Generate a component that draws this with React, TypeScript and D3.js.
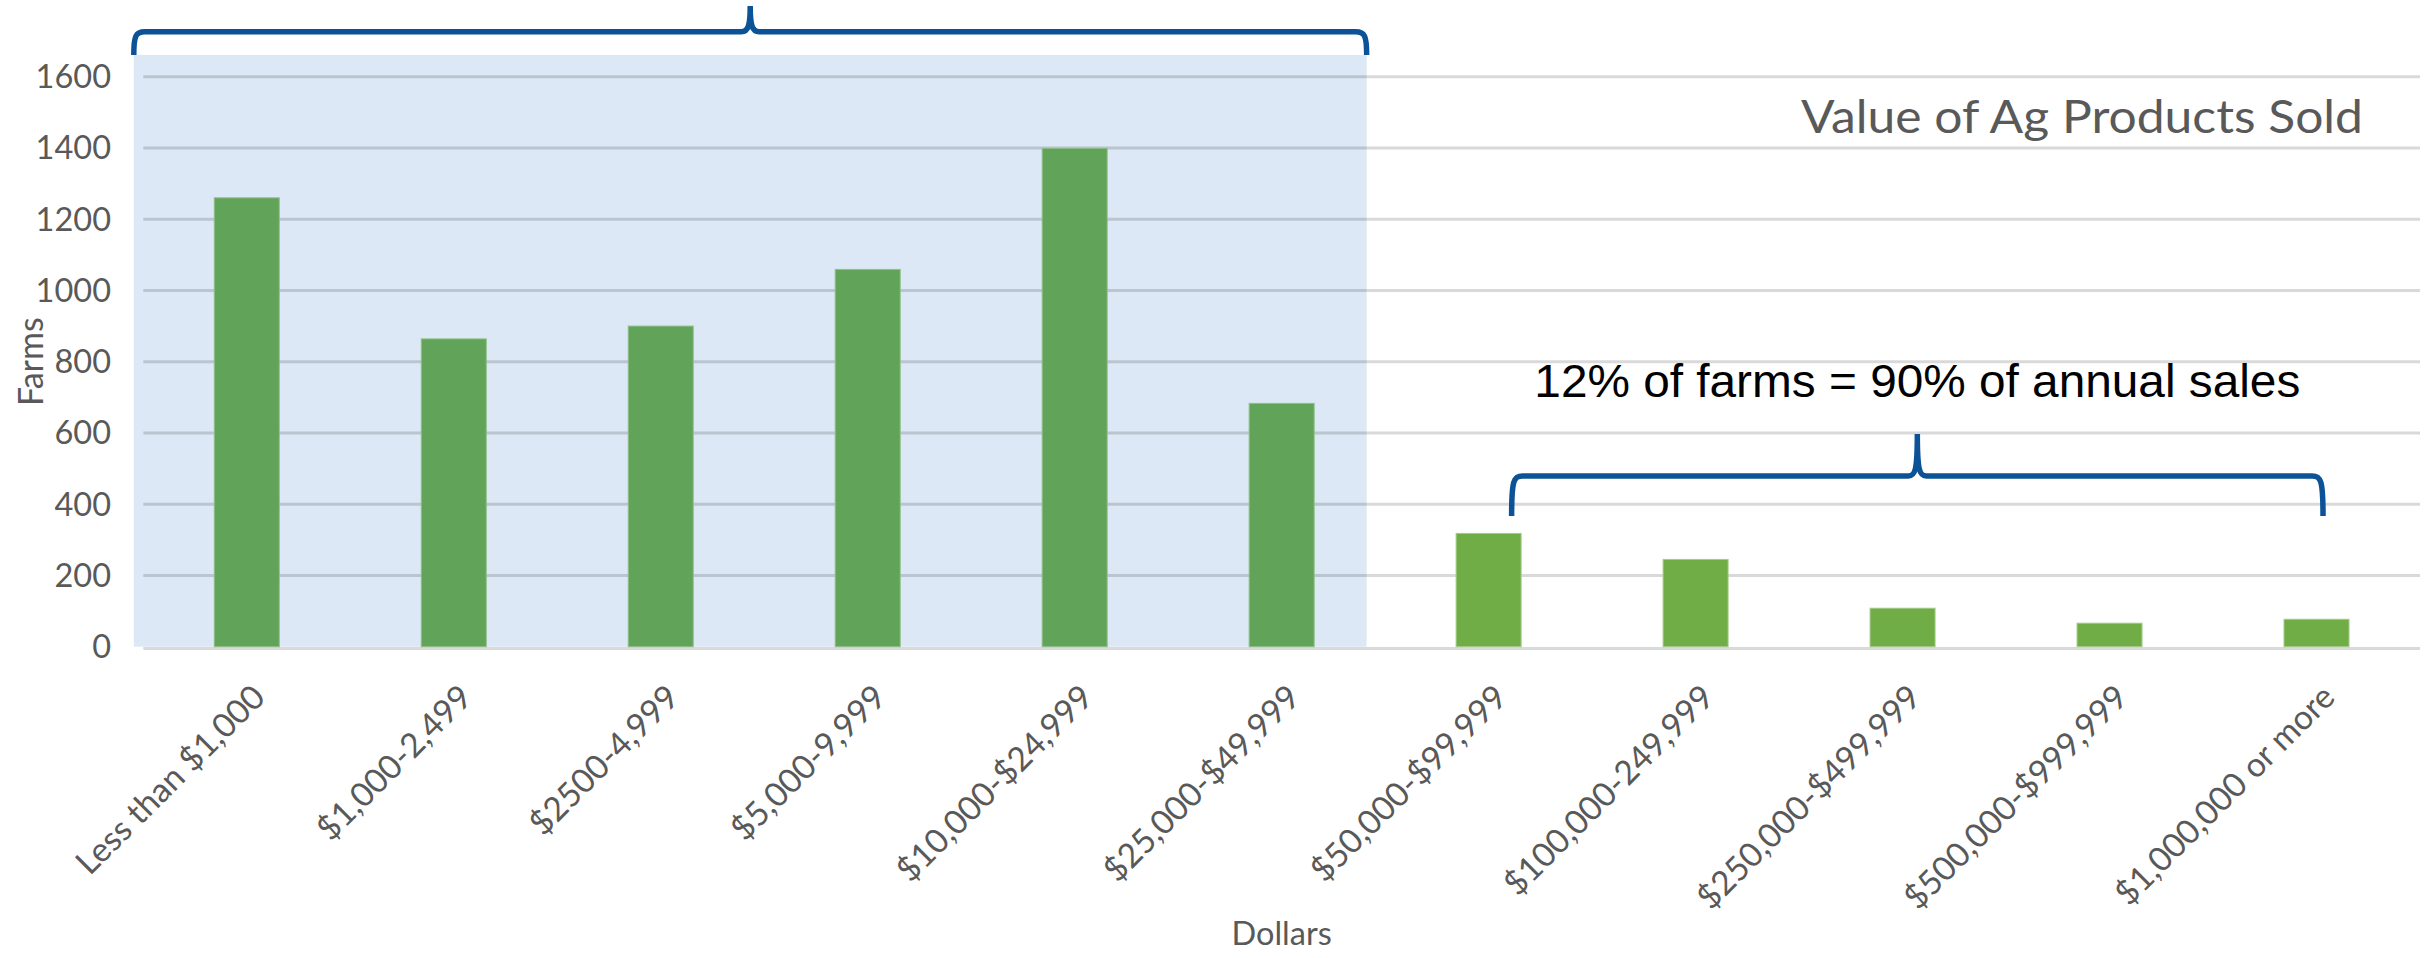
import React from "react";
import * as d3 from "d3";

const categories = [
  "Less than $1,000",
  "$1,000-2,499",
  "$2500-4,999",
  "$5,000-9,999",
  "$10,000-$24,999",
  "$25,000-$49,999",
  "$50,000-$99,999",
  "$100,000-249,999",
  "$250,000-$499,999",
  "$500,000-$999,999",
  "$1,000,000 or more",
];
const farms = [1260, 864, 900, 1059, 1399, 683, 318, 245, 108, 66, 77];
const yTicks = [0, 200, 400, 600, 800, 1000, 1200, 1400, 1600];
const highlightedCount = 6; // first six categories are shaded
const titleText = "Value of Ag Products Sold";
const annotationText = "12% of farms = 90% of annual sales";
const xAxisTitle = "Dollars";
const yAxisTitle = "Farms";

const W = 2430;
const H = 958;
const plot = { left: 143.3, right: 2420, top: 76.7, bottom: 646.7 };
const calibriLike = "Lato, 'Open Sans', sans-serif";
const gray = "#595959";
const braceColor = "#0b5396";

function bracePath(x0: number, x1: number, yEnd: number, yLine: number, yPeak: number) {
  const xp = (x0 + x1) / 2;
  const rx = 11;
  const s = 9;
  return [
    `M${x0},${yEnd}`,
    `C${x0},${yLine + 4} ${x0 + 2},${yLine} ${x0 + rx},${yLine}`,
    `L${xp - s},${yLine}`,
    `C${xp - 2},${yLine} ${xp},${yLine - 6} ${xp},${yPeak}`,
    `C${xp},${yLine - 6} ${xp + 2},${yLine} ${xp + s},${yLine}`,
    `L${x1 - rx},${yLine}`,
    `C${x1 - 2},${yLine} ${x1},${yLine + 4} ${x1},${yEnd}`,
  ].join(" ");
}

export default function App() {
  const x = d3
    .scaleBand<string>()
    .domain(categories)
    .range([plot.left, plot.right])
    .paddingInner(0.686)
    .paddingOuter(0.343);
  const y = d3.scaleLinear().domain([0, 1600]).range([plot.bottom, plot.top]);
  const bw = x.bandwidth();
  const cx = (c: string) => (x(c) as number) + bw / 2;

  const shadeLeft = cx(categories[0]) - 113;
  const shadeRight = cx(categories[highlightedCount - 1]) + 85;
  const brace2Left = cx(categories[highlightedCount]) + 23;
  const brace2Right = cx(categories[categories.length - 1]) + 6.5;

  return (
    <svg
      width={W}
      height={H}
      style={{ position: "absolute", left: 0, top: 0, background: "#fff" }}
    >
      {/* shaded region */}
      <rect
        x={shadeLeft}
        y={55}
        width={shadeRight - shadeLeft}
        height={plot.bottom - 55}
        fill="#dce8f5"
      />
      {/* gridlines */}
      {yTicks.filter((t) => t > 0).map((t) => (
        <line
          key={t}
          x1={plot.left}
          x2={plot.right}
          y1={y(t)}
          y2={y(t)}
          stroke="rgba(0,0,0,0.15)"
          strokeWidth={3}
        />
      ))}
      {/* axis line */}
      <line
        x1={plot.left}
        x2={plot.right}
        y1={plot.bottom + 1.8}
        y2={plot.bottom + 1.8}
        stroke="#d9d9d9"
        strokeWidth={3.2}
      />
      {/* bars */}
      {categories.map((c, i) => (
        <rect
          key={c}
          x={x(c)}
          y={y(farms[i])}
          width={bw}
          height={plot.bottom - y(farms[i])}
          fill={i < highlightedCount ? "#62a35a" : "#70ad47"}
          stroke={i < highlightedCount ? "#8fbf86" : "#a3cc86"}
          strokeWidth={1}
        />
      ))}
      {/* y tick labels */}
      {yTicks.map((t) => (
        <text
          key={t}
          x={111}
          y={y(t)}
          dy="0.35em"
          textAnchor="end"
          fontFamily={calibriLike}
          fontSize={32.5}
          fill={gray}
        >
          {t}
        </text>
      ))}
      {/* x tick labels */}
      {categories.map((c) => (
        <text
          key={c}
          transform={`translate(${cx(c) + 12},${691}) rotate(-45)`}
          dy="0.35em"
          textAnchor="end"
          fontFamily={calibriLike}
          fontSize={33.5}
          fill={gray}
        >
          {c}
        </text>
      ))}
      {/* axis titles */}
      <text
        x={(plot.left + plot.right) / 2}
        y={945}
        textAnchor="middle"
        fontFamily={calibriLike}
        fontSize={32.5}
        fill={gray}
      >
        {xAxisTitle}
      </text>
      <text
        transform={`translate(42.7,${(plot.top + plot.bottom) / 2}) rotate(-90)`}
        textAnchor="middle"
        fontFamily={calibriLike}
        fontSize={34}
        fill={gray}
      >
        {yAxisTitle}
      </text>
      {/* chart title */}
      <text
        x={2363}
        y={133}
        textAnchor="end"
        fontFamily={calibriLike}
        fontWeight={400}
        fontSize={46}
        fill={gray}
        textLength={562}
        lengthAdjust="spacingAndGlyphs"
      >
        {titleText}
      </text>
      {/* annotation */}
      <text
        x={(brace2Left + brace2Right) / 2}
        y={396.5}
        textAnchor="middle"
        fontFamily="'Liberation Sans', Arial, sans-serif"
        fontSize={47}
        fill="#000"
        textLength={766}
        lengthAdjust="spacingAndGlyphs"
      >
        {annotationText}
      </text>
      {/* braces */}
      <path
        d={bracePath(shadeLeft, shadeRight, 55, 31.7, 6)}
        fill="none"
        stroke={braceColor}
        strokeWidth={5.5}
      />
      <path
        d={bracePath(brace2Left, brace2Right, 516, 476, 434)}
        fill="none"
        stroke={braceColor}
        strokeWidth={5.5}
      />
    </svg>
  );
}
